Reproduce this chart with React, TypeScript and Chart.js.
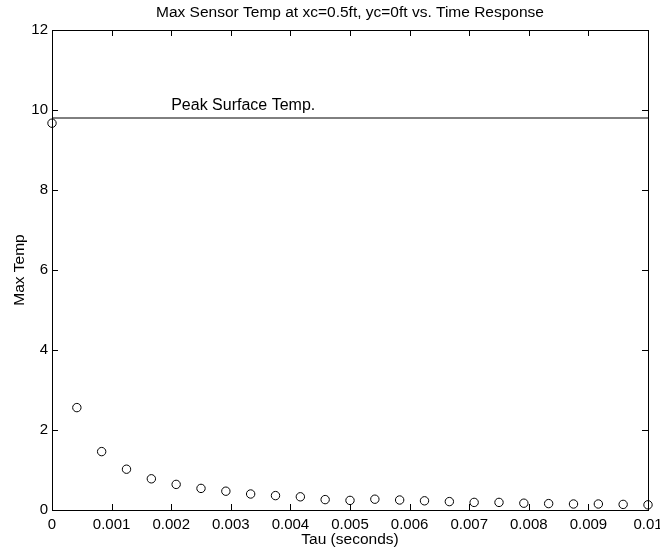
import React, { useEffect, useRef } from "react";
import { Chart, registerables } from "chart.js";

Chart.register(...registerables);

const TITLE = "Max Sensor Temp at xc=0.5ft, yc=0ft vs. Time Response";
const X_TITLE = "Tau (seconds)";
const Y_TITLE = "Max Temp";
const PEAK_LABEL = "Peak Surface Temp.";

const tauValues = [
  0, 0.000417, 0.000833, 0.00125, 0.001667, 0.002083, 0.0025, 0.002917, 0.003333,
  0.00375, 0.004167, 0.004583, 0.005, 0.005417, 0.005833, 0.00625, 0.006667,
  0.007083, 0.0075, 0.007917, 0.008333, 0.00875, 0.009167, 0.009583, 0.01,
];
const maxTempValues = [
  9.67, 2.56, 1.46, 1.02, 0.78, 0.64, 0.54, 0.47, 0.40, 0.36, 0.33, 0.26, 0.24,
  0.27, 0.25, 0.23, 0.21, 0.19, 0.19, 0.17, 0.16, 0.15, 0.15, 0.14, 0.13,
];
const peakTemp = 9.8;
const peakX = [0, 0.01];
const peakLabelAt = 0.002;

const xTicks = [0, 0.001, 0.002, 0.003, 0.004, 0.005, 0.006, 0.007, 0.008, 0.009, 0.01];
const yTicks = [0, 2, 4, 6, 8, 10, 12];

const FONT = "'Liberation Sans', Arial, Helvetica, sans-serif";

const decorPlugin = {
  id: "decor",
  afterDraw(chart: any) {
    const { ctx, chartArea } = chart;
    const { left, right, top, bottom } = chartArea;
    const xs = chart.scales.x;
    const ys = chart.scales.y;
    ctx.save();
    ctx.strokeStyle = "#000";
    ctx.lineWidth = 1;
    ctx.strokeRect(left + 0.5, top + 0.5, right - left, bottom - top);
    const tl = 6;
    ctx.beginPath();
    xTicks.forEach((v) => {
      const px = Math.round(xs.getPixelForValue(v)) + 0.5;
      ctx.moveTo(px, bottom);
      ctx.lineTo(px, bottom - tl);
      ctx.moveTo(px, top);
      ctx.lineTo(px, top + tl);
    });
    yTicks.forEach((v) => {
      const py = Math.round(ys.getPixelForValue(v)) + 0.5;
      ctx.moveTo(left, py);
      ctx.lineTo(left + tl, py);
      ctx.moveTo(right, py);
      ctx.lineTo(right - tl, py);
    });
    ctx.stroke();

    ctx.fillStyle = "#000";
    ctx.font = `15.5px ${FONT}`;
    ctx.textAlign = "center";
    ctx.textBaseline = "middle";
    ctx.fillText(TITLE, (left + right) / 2, 13);
    ctx.fillText(X_TITLE, (left + right) / 2, 540);

    ctx.save();
    ctx.translate(20, (top + bottom) / 2);
    ctx.rotate(-Math.PI / 2);
    ctx.fillText(Y_TITLE, 0, 0);
    ctx.restore();

    ctx.textAlign = "left";
    ctx.textBaseline = "alphabetic";
    ctx.font = `16px ${FONT}`;
    ctx.fillText(PEAK_LABEL, xs.getPixelForValue(peakLabelAt), ys.getPixelForValue(peakTemp) - 8);
    ctx.restore();
  },
};

export default function App() {
  const ref = useRef<HTMLCanvasElement | null>(null);
  useEffect(() => {
    if (!ref.current) return;
    const chart = new Chart(ref.current, {
      type: "scatter",
      data: {
        datasets: [
          {
            type: "line",
            data: peakX.map((x) => ({ x, y: peakTemp })),
            borderColor: "#000",
            borderWidth: 1,
            pointRadius: 0,
            fill: false,
            clip: false,
          } as any,
          {
            data: tauValues.map((x, i) => ({ x, y: maxTempValues[i] })),
            pointStyle: "circle",
            pointRadius: 4.2,
            borderColor: "#000",
            borderWidth: 1,
            backgroundColor: "rgba(0,0,0,0)",
            showLine: false,
            clip: false,
          },
        ],
      },
      options: {
        animation: false,
        responsive: false,
        layout: { padding: { left: 0, right: 12, top: 30, bottom: 0 } },
        plugins: { legend: { display: false }, tooltip: { enabled: false }, title: { display: false } },
        scales: {
          x: {
            type: "linear",
            min: 0,
            max: 0.01,
            afterBuildTicks: (s: any) => {
              s.ticks = xTicks.map((v) => ({ value: v }));
            },
            afterFit: (s: any) => {
              s.height = 42;
              s.paddingLeft = 0;
              s.paddingRight = 0;
            },
            grid: { display: false, drawTicks: false },
            border: { display: false },
            ticks: {
              color: "#000",
              font: { family: FONT, size: 15 },
              padding: 6,
              maxRotation: 0,
              autoSkip: false,
              callback: (v: any) => String(parseFloat(Number(v).toFixed(4))),
            },
          },
          y: {
            type: "linear",
            min: 0,
            max: 12,
            afterBuildTicks: (s: any) => {
              s.ticks = yTicks.map((v) => ({ value: v }));
            },
            afterFit: (s: any) => {
              s.width = 52;
              s.paddingTop = 0;
              s.paddingBottom = 0;
            },
            grid: { display: false, drawTicks: false },
            border: { display: false },
            ticks: {
              color: "#000",
              font: { family: FONT, size: 15 },
              padding: 4,
              autoSkip: false,
              callback: (v: any) => String(v),
            },
          },
        },
      },
      plugins: [decorPlugin],
    } as any);
    return () => chart.destroy();
  }, []);
  return (
    <div style={{ position: "absolute", left: 0, top: 0, width: 660, height: 552, background: "#fff" }}>
      <canvas ref={ref} width={660} height={552} style={{ width: 660, height: 552 }} />
    </div>
  );
}
